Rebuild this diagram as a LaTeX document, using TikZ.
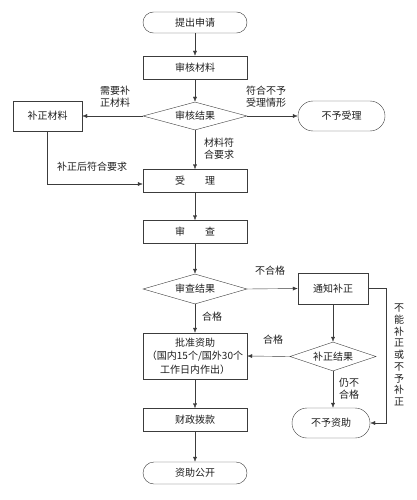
\documentclass[tikz,border=0pt]{standalone}
\usepackage{fontspec}
\setmainfont{Noto Sans CJK SC}
\usetikzlibrary{arrows.meta,shapes.geometric}
\definecolor{LineGray}{RGB}{60,60,60}
\definecolor{TextGray}{RGB}{30,30,30}

\begin{document}
\begin{tikzpicture}[x=1pt,y=-1pt,
  every node/.style={font=\fontsize{10}{12}\selectfont, text=TextGray},
  box/.style={draw=LineGray, rectangle, minimum width=104pt, minimum height=23pt, inner sep=1pt},
  term/.style={draw=LineGray, rectangle, rounded corners=10.5pt, minimum width=104pt, minimum height=21pt, inner sep=1pt},
  decision/.style={draw=LineGray, diamond, aspect=3.7, minimum width=104pt, minimum height=28pt, inner sep=0pt},
  arr/.style={draw=LineGray, -{Latex[length=5pt,width=4pt]}},
  lbl/.style={align=center, inner sep=0pt}]
  \useasboundingbox (0,0) rectangle (417,500);
  % main column
  \node[term] (start) at (195,22.5) {提出申请};
  \node[box] (cl) at (195,67.5) {审核材料};
  \node[decision] (jg1) at (195,116) {审核结果};
  \node[box, minimum width=69pt, minimum height=30pt] (bz) at (47.5,116) {补正材料};
  \node[term, minimum width=87pt, minimum height=30pt, rounded corners=15pt] (bysl) at (341.5,116) {不予受理};
  \node[box] (sl) at (195,181) {受\hspace{2em}理};
  \node[box] (sc) at (195,232) {审\hspace{2em}查};
  \node[decision, minimum height=30pt] (jg2) at (195,289) {审查结果};
  \node[box, minimum width=70pt, minimum height=31pt] (tz) at (333,288.5) {通知补正};
  \node[box, minimum height=46pt, align=center, font=\fontsize{10}{13.5}\selectfont] (pz) at (195,356) {批准资助\\（国内15个/国外30个\\工作日内作出）};
  \node[decision, minimum width=86pt, minimum height=29pt, aspect=3] (jg3) at (333,356.5) {补正结果};
  \node[box] (cz) at (195,420) {财政拨款};
  \node[term, minimum width=78pt, minimum height=30pt, rounded corners=15pt] (byzz) at (331,423) {不予资助};
  \node[term, minimum height=22pt, rounded corners=11pt] (gk) at (195,473) {资助公开};
  \coordinate (rt) at (386,288.5);
  \coordinate (bzc) at (bz.south |- 0,184);

  \draw[arr] (start) -- (cl);
  \draw[arr] (cl) -- (jg1);
  \draw[arr] (jg1.west) -- (bz.east);
  \draw[arr] (jg1.east) -- (bysl.west);
  \draw[arr] (jg1.south) -- (sl.north);
  \draw[arr] (bz.south) -- (bzc) -- (bzc -| sl.west);
  \draw[arr] (sl) -- (sc);
  \draw[arr] (sc) -- (jg2);
  \draw[arr] (jg2.east) -- (tz.west);
  \draw[arr] (jg2.south) -- (pz.north);
  \draw[arr] (tz.south) -- (tz.south |- jg3.north);
  \draw[arr] (jg3.west) -- (pz.east);
  \draw[arr] (jg3.south) -- (jg3.south |- byzz.north);
  \draw[arr] (pz) -- (cz);
  \draw[arr] (cz) -- (gk);
  \draw[arr] (tz.east) -- (rt) -- (rt |- byzz.east) -- (byzz.east);

  % labels
  \node[lbl] (l1) at (115,97) {需要补\\正材料};
  \node[lbl] (l2) at (266,97) {符合不予\\受理情形};
  \node[lbl] (l3) at (219,149) {材料符\\合要求};
  \node[lbl] (l4) at (92,167) {补正后符合要求};
  \node[lbl] (l5) at (270,271) {不合格};
  \node[lbl] (l6) at (212,317) {合格};
  \node[lbl] (l7) at (273,340) {合格};
  \node[lbl] (l8) at (349,389) {仍不\\合格};
  \node[lbl, font=\fontsize{10}{11.7}\selectfont] (l9) at (399,355) {不\\能\\补\\正\\或\\不\\予\\补\\正};
\end{tikzpicture}
\end{document}
